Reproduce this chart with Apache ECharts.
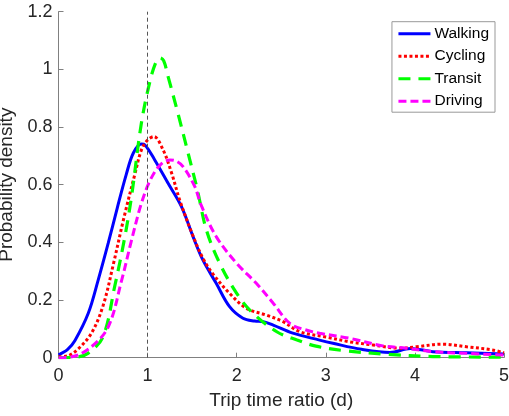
<!DOCTYPE html>
<html>
<head>
<meta charset="utf-8">
<script src="https://cdn.jsdelivr.net/npm/echarts@6/dist/echarts.min.js"></script>
<style>
html,body{margin:0;padding:0;background:#fff;}
#chart{width:509px;height:416px;}
</style>
</head>
<body>
<div id="chart"></div>
<script>
var seriesNames = ['Walking', 'Cycling', 'Transit', 'Driving'];
var xTicks = [0, 1, 2, 3, 4, 5];
var yTicks = [0, 0.2, 0.4, 0.6, 0.8, 1, 1.2];
var referenceX = 1;

var walking = [[0,0.01],[0.1,0.028],[0.185,0.06],[0.334,0.154],[0.446,0.27],[0.558,0.397],[0.66,0.52],[0.76,0.635],[0.84,0.71],[0.93,0.741],[0.97,0.738],[1.08,0.686],[1.23,0.605],[1.38,0.524],[1.51,0.42],[1.62,0.339],[1.77,0.258],[1.92,0.177],[2.07,0.137],[2.2,0.127],[2.3,0.125],[2.41,0.113],[2.63,0.085],[2.93,0.061],[3.08,0.05],[3.4,0.029],[3.72,0.018],[3.95,0.032],[4.2,0.021],[4.58,0.017],[5,0.013]];
var cycling = [[0,0.003],[0.1,0.006],[0.22,0.03],[0.37,0.085],[0.5,0.18],[0.62,0.33],[0.73,0.48],[0.86,0.64],[0.93,0.72],[1.0,0.755],[1.07,0.767],[1.175,0.72],[1.27,0.64],[1.36,0.547],[1.5,0.43],[1.62,0.345],[1.735,0.29],[1.92,0.223],[2.11,0.171],[2.33,0.148],[2.52,0.125],[2.71,0.09],[3.0,0.072],[3.27,0.055],[3.53,0.044],[3.83,0.033],[4.02,0.038],[4.31,0.047],[4.58,0.038],[4.87,0.027],[5,0.017]];
var transit = [[0,0.0],[0.2,0.002],[0.33,0.015],[0.5,0.073],[0.63,0.246],[0.745,0.42],[0.82,0.56],[0.93,0.813],[1.03,0.963],[1.1,1.03],[1.14,1.04],[1.18,1.03],[1.23,0.975],[1.34,0.848],[1.455,0.709],[1.56,0.58],[1.66,0.443],[1.81,0.327],[2.0,0.223],[2.17,0.158],[2.45,0.09],[2.67,0.062],[2.89,0.04],[3.19,0.025],[3.68,0.012],[4.2,0.004],[5,0.002]];
var driving = [[0,0.0],[0.15,0.003],[0.37,0.038],[0.56,0.108],[0.71,0.27],[0.82,0.408],[0.93,0.535],[1.03,0.616],[1.14,0.668],[1.25,0.686],[1.32,0.682],[1.40,0.662],[1.53,0.593],[1.6,0.53],[1.77,0.42],[2.0,0.327],[2.22,0.258],[2.41,0.189],[2.6,0.118],[2.78,0.096],[2.93,0.085],[3.27,0.067],[3.64,0.041],[3.9,0.033],[4.2,0.021],[4.58,0.015],[5,0.009]];

var chart = echarts.init(document.getElementById('chart'), null, {renderer: 'canvas'});
var font = 'Liberation Sans, Arial, Helvetica, sans-serif';
var axisGray = '#808080';
var textDark = '#262626';

function mkSeries(name, data, color, type, width) {
  return {
    name: name, type: 'line', data: data, smooth: 0.35,
    showSymbol: false, symbol: 'none',
    lineStyle: {color: color, width: width, type: type, cap: 'butt'},
    itemStyle: {color: color},
    emphasis: {disabled: true},
    animation: false, z: 3
  };
}

var series = [
  mkSeries(seriesNames[0], walking, '#0000ff', 'solid', 3),
  mkSeries(seriesNames[1], cycling, '#ff0000', [3, 2.5], 3),
  mkSeries(seriesNames[2], transit, '#00ff00', [12, 8], 3.2),
  mkSeries(seriesNames[3], driving, '#ff00ff', [8, 4], 3)
];
series[0].markLine = {
  silent: true, symbol: ['none', 'none'], animation: false,
  label: {show: false},
  lineStyle: {color: '#555555', width: 1, type: [4, 3]},
  data: [{xAxis: referenceX}]
};

chart.setOption({
  backgroundColor: '#ffffff',
  animation: false,
  grid: {left: 58.5, right: 5, top: 11.7, bottom: 58.3, containLabel: false, outerBoundsMode: 'none'},
  legend: {
    data: seriesNames,
    orient: 'vertical',
    right: 14, top: 21.7,
    itemWidth: 32, itemHeight: 14, itemGap: 6.5,
    padding: [4, 6, 3, 5],
    borderColor: '#999999', borderWidth: 1,
    backgroundColor: '#ffffff',
    itemStyle: {opacity: 0},
    lineStyle: {width: 3},
    textStyle: {fontFamily: font, fontSize: 15.5, color: '#000000', padding: [0, 0, 0, -1]},
    selectedMode: false
  },
  xAxis: {
    type: 'value', min: xTicks[0], max: xTicks[xTicks.length - 1], interval: 1,
    name: 'Trip time ratio (d)', nameLocation: 'middle', nameGap: 34,
    nameTextStyle: {fontFamily: font, fontSize: 19, color: textDark},
    axisLine: {show: true, onZero: false, lineStyle: {color: axisGray, width: 1}},
    axisTick: {show: true, inside: true, length: 5, lineStyle: {color: axisGray}},
    axisLabel: {fontFamily: font, fontSize: 18, color: textDark, margin: 9},
    splitLine: {show: false}
  },
  yAxis: {
    type: 'value', min: yTicks[0], max: yTicks[yTicks.length - 1], interval: 0.2,
    name: 'Probability density', nameLocation: 'middle', nameGap: 36,
    nameTextStyle: {fontFamily: font, fontSize: 19, color: textDark},
    axisLine: {show: true, onZero: false, lineStyle: {color: axisGray, width: 1}},
    axisTick: {show: true, inside: true, length: 5, lineStyle: {color: axisGray}},
    axisLabel: {fontFamily: font, fontSize: 18, color: textDark, margin: 6},
    splitLine: {show: false}
  },
  series: series
});
</script>
</body>
</html>
